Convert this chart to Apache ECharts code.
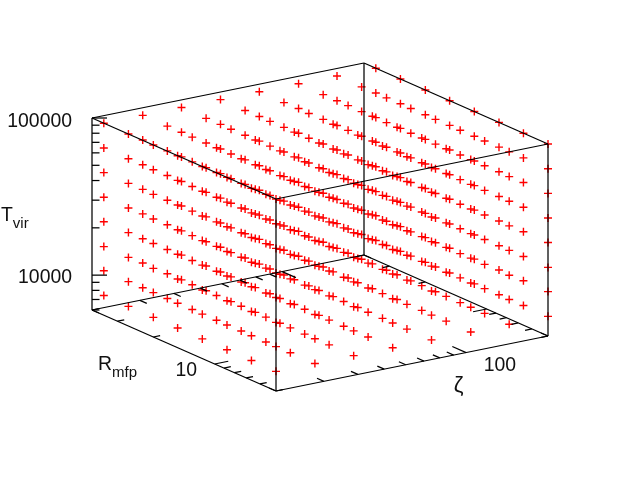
<!DOCTYPE html>
<html>
<head>
<meta charset="utf-8">
<style>html,body{margin:0;padding:0;background:#fff}#c{width:640px;height:480px}</style>
<script src="https://cdn.jsdelivr.net/npm/echarts@6/dist/echarts.min.js"></script>
</head>
<body>
<div id="c"></div>
<script>
// Grid sampled by the red points
var zetaValues = [20, 27.8, 38.6, 53.7, 74.6, 104, 144, 200];
var rmfpValues = [5, 6.6, 8.7, 11.5, 15.2, 20, 26.5, 35];
var tvirValues = [8000, 11500, 16400, 23600, 33800, 48500, 69600, 100000];

// Axis ranges and ticks
var zetaRange = [20, 200];
var rmfpRange = [5, 40];
var tvirRange = [6000, 100000];
var zetaTicks = [20, 30, 40, 50, 60, 70, 80, 90, 100, 200];
var zetaMajor = [100];
var rmfpTicks = [5, 6, 7, 8, 9, 10, 20, 30, 40];
var rmfpMajor = [10];
var tvirTicks = [6000, 7000, 8000, 9000, 10000, 20000, 30000, 40000, 50000, 60000, 70000, 80000, 90000, 100000];
var tvirMajor = [10000, 100000];

// Oblique view of the log-log-log box (page pixels of the near bottom corner and edge vectors)
var origin = [276, 391], zetaVec = [272, -55], rmfpVec = [-184, -81], tvirVec = [0, -192];
function frac(v, r) { return Math.log(v / r[0]) / Math.log(r[1] / r[0]); }
function project(z, r, t) {
  var u = frac(z, zetaRange), v = frac(r, rmfpRange), w = frac(t, tvirRange);
  return [origin[0] + u * zetaVec[0] + v * rmfpVec[0] + w * tvirVec[0],
          origin[1] + u * zetaVec[1] + v * rmfpVec[1] + w * tvirVec[1]];
}

var points = [];
zetaValues.forEach(function (z) {
  rmfpValues.forEach(function (r) {
    tvirValues.forEach(function (t) { points.push(project(z, r, t)); });
  });
});

var segs = [];
function seg(a, b) { segs.push([a[0], a[1], b[0], b[1]]); }
var zL = zetaRange[0], zH = zetaRange[1], rL = rmfpRange[0], rH = rmfpRange[1], tL = tvirRange[0], tH = tvirRange[1];
[tL, tH].forEach(function (t) {
  seg(project(zL, rL, t), project(zH, rL, t));
  seg(project(zH, rL, t), project(zH, rH, t));
  seg(project(zH, rH, t), project(zL, rH, t));
  seg(project(zL, rH, t), project(zL, rL, t));
});
[[zL, rL], [zH, rL], [zH, rH], [zL, rH]].forEach(function (c) {
  seg(project(c[0], c[1], tL), project(c[0], c[1], tH));
});
function add(p, d, s) { return [p[0] + d[0] * s, p[1] + d[1] * s]; }
var zetaTickDir = [-13.8, -6.1], rmfpTickDir = [13.6, -2.75], tvirTickDir = [15, 0];
zetaTicks.forEach(function (z) {
  var s = zetaMajor.indexOf(z) >= 0 ? 1 : 0.5, a = project(z, rL, tL), b = project(z, rH, tL);
  seg(a, add(a, zetaTickDir, s)); seg(b, add(b, zetaTickDir, -s));
});
rmfpTicks.forEach(function (r) {
  var s = rmfpMajor.indexOf(r) >= 0 ? 1 : 0.5, a = project(zL, r, tL), b = project(zH, r, tL);
  seg(a, add(a, rmfpTickDir, s)); seg(b, add(b, rmfpTickDir, -s));
});
tvirTicks.forEach(function (t) {
  var s = tvirMajor.indexOf(t) >= 0 ? 1 : 0.5, a = project(zL, rH, t);
  seg(a, add(a, tvirTickDir, s));
});

var font = '"Liberation Sans", Arial, sans-serif', fs = 19.4, sub = 15;
function textItem(x, y, html, align, size) {
  return { type: 'text', x: x, y: y, z: 20, style: { text: html, fill: '#111', font: (size || fs) + 'px ' + font, align: align, verticalAlign: 'middle',
    rich: { s: { fontSize: sub, fontFamily: font, fill: '#111', verticalAlign: 'bottom' }, n: { fontSize: fs, fontFamily: font, fill: '#111', verticalAlign: 'bottom', padding: [0, 0, 6, 0] } } } };
}
var chart = echarts.init(document.getElementById('c'), null, { renderer: 'canvas' });
chart.setOption({
  animation: false,
  backgroundColor: '#fff',
  grid: { left: 0, top: 0, width: 640, height: 480 },
  xAxis: { type: 'value', min: 0, max: 640, show: false },
  yAxis: { type: 'value', min: 0, max: 480, inverse: true, show: false },
  series: [
    { type: 'scatter', name: 'grid', data: points, z: 2, silent: true,
      symbol: 'path://M0 -1L0 1M-1 0L1 0', symbolSize: 8,
      itemStyle: { color: 'none', borderColor: '#ff0000', borderWidth: 1.4, opacity: 1 } },
    { type: 'custom', name: 'box', data: segs, z: 5, silent: true, clip: false,
      encode: { x: [0, 2], y: [1, 3] },
      renderItem: function (params, api) {
        var a = api.coord([api.value(0), api.value(1)]), b = api.coord([api.value(2), api.value(3)]);
        return { type: 'line', shape: { x1: a[0], y1: a[1], x2: b[0], y2: b[1] }, style: { stroke: '#000', lineWidth: 1.25 } };
      } }
  ],
  graphic: [
    textItem(72, 121.5, '100000', 'right'),
    textItem(72, 277.5, '10000', 'right'),
    textItem(197, 370.5, '10', 'right'),
    textItem(516, 365.5, '100', 'right'),
    textItem(1, 218.5, '{n|T}{s|vir}', 'left'),
    textItem(98, 368, '{n|R}{s|mfp}', 'left'),
    textItem(458.5, 385.5, 'ζ', 'center', 22)
  ]
});
</script>
</body>
</html>
